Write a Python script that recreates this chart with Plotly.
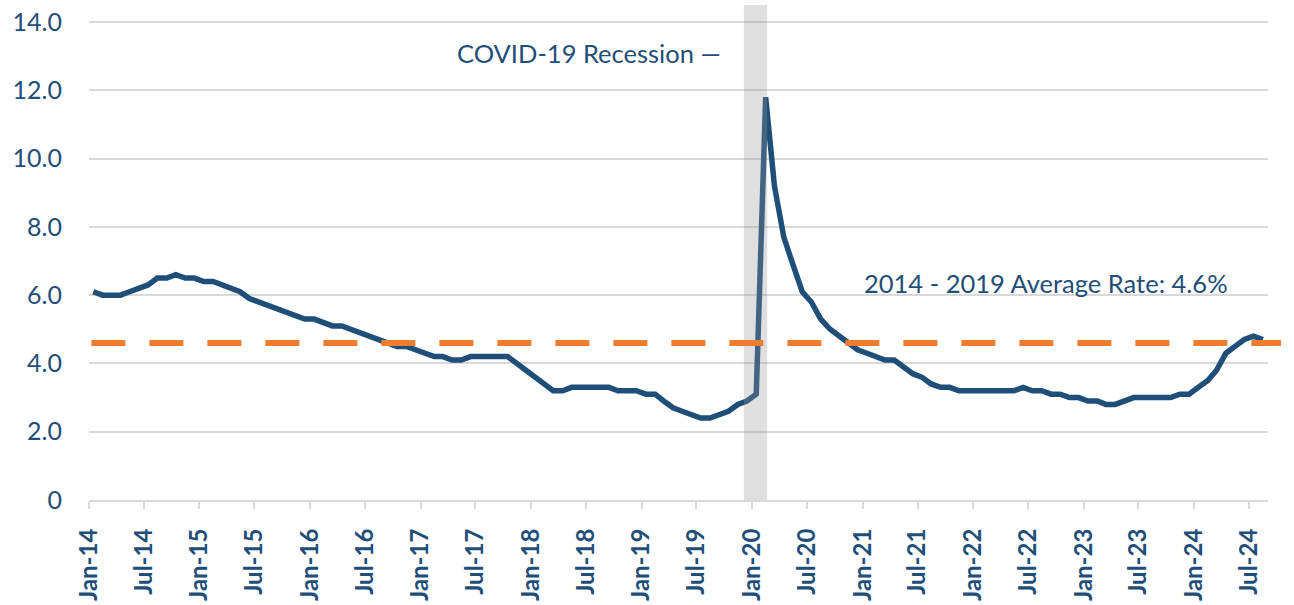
import pandas as pd
import plotly.graph_objects as go

# ---- data ----
start_month = "2014-01-01"
rate = [
    # 2014
    6.1, 6.0, 6.0, 6.0, 6.1, 6.2, 6.3, 6.5, 6.5, 6.6, 6.5, 6.5,
    # 2015
    6.4, 6.4, 6.3, 6.2, 6.1, 5.9, 5.8, 5.7, 5.6, 5.5, 5.4, 5.3,
    # 2016
    5.3, 5.2, 5.1, 5.1, 5.0, 4.9, 4.8, 4.7, 4.6, 4.5, 4.5, 4.4,
    # 2017
    4.3, 4.2, 4.2, 4.1, 4.1, 4.2, 4.2, 4.2, 4.2, 4.2, 4.0, 3.8,
    # 2018
    3.6, 3.4, 3.2, 3.2, 3.3, 3.3, 3.3, 3.3, 3.3, 3.2, 3.2, 3.2,
    # 2019
    3.1, 3.1, 2.9, 2.7, 2.6, 2.5, 2.4, 2.4, 2.5, 2.6, 2.8, 2.9,
    # 2020
    3.1, 11.8, 9.2, 7.7, 6.9, 6.1, 5.8, 5.3, 5.0, 4.8, 4.6, 4.4,
    # 2021
    4.3, 4.2, 4.1, 4.1, 3.9, 3.7, 3.6, 3.4, 3.3, 3.3, 3.2, 3.2,
    # 2022
    3.2, 3.2, 3.2, 3.2, 3.2, 3.3, 3.2, 3.2, 3.1, 3.1, 3.0, 3.0,
    # 2023
    2.9, 2.9, 2.8, 2.8, 2.9, 3.0, 3.0, 3.0, 3.0, 3.0, 3.1, 3.1,
    # 2024
    3.3, 3.5, 3.8, 4.3, 4.5, 4.7, 4.8, 4.7,
]
average_rate = 4.6
average_label = "2014 - 2019 Average Rate: 4.6%"
recession = ["2019-12-05", "2020-02-20"]
recession_label = "COVID-19 Recession \u2014"
y_ticks = [0, 2, 4, 6, 8, 10, 12, 14]
y_ticktext = ["0", "2.0", "4.0", "6.0", "8.0", "10.0", "12.0", "14.0"]
x_range = ["2014-01-01", "2024-09-01"]

dates = pd.date_range(start=start_month, periods=len(rate), freq="MS") + pd.Timedelta(days=14)

NAVY = "#1F4E79"
ORANGE = "#ED7D31"
GRID = "#D9D9D9"
FONT = "Lato"

fig = go.Figure()
fig.add_trace(go.Scatter(
    x=dates, y=rate, mode="lines",
    line=dict(color=NAVY, width=5.5),
    hoverinfo="x+y", showlegend=False,
))

# recession shading (drawn above the line, semi-transparent)
fig.add_shape(type="rect", xref="x", yref="paper",
              x0=recession[0], x1=recession[1], y0=0, y1=1,
              fillcolor="rgba(150,150,150,0.30)", line=dict(width=0),
              layer="above")

# average dashed line
fig.add_shape(type="line", xref="paper", yref="y",
              x0=0.002, x1=1.011, y0=average_rate, y1=average_rate,
              line=dict(color=ORANGE, width=6, dash="34px,24px"),
              layer="above")

fig.add_annotation(x="2019-09-28", y=13.1, xref="x", yref="y",
                   text=recession_label, showarrow=False,
                   xanchor="right", yanchor="middle",
                   font=dict(family=FONT, size=25.5, color=NAVY))
fig.add_annotation(x="2020-12-28", y=6.35, xref="x", yref="y",
                   text=average_label, showarrow=False,
                   xanchor="left", yanchor="middle",
                   font=dict(family=FONT, size=25.5, color=NAVY))

fig.update_layout(
    width=1294, height=605,
    margin=dict(l=89, r=26, t=5, b=105),
    paper_bgcolor="white", plot_bgcolor="white",
    font=dict(family=FONT, color=NAVY),
    showlegend=False,
)
fig.update_xaxes(
    type="date", range=x_range, automargin=False,
    tick0="2014-01-01", dtick="M6", tickformat="%b-%y",
    tickangle=-90,
    tickfont=dict(family=FONT, size=24, color=NAVY, weight="bold"),
    ticks="outside", ticklen=7, tickwidth=2, tickcolor=GRID,
    showline=True, linecolor=GRID, linewidth=2,
    showgrid=False, zeroline=False,
    ticklabelstandoff=10,
)
fig.update_yaxes(
    range=[0, 14.5], tickvals=y_ticks, ticktext=y_ticktext, automargin=False,
    tickfont=dict(family=FONT, size=25, color=NAVY),
    showgrid=True, gridcolor=GRID, gridwidth=1.5,
    zeroline=False, showline=False, ticks="",
    ticklabelstandoff=26,
)

fig.write_html("out.html",
               config={"displayModeBar": False},
               post_script="document.body.style.margin='0';document.body.style.overflow='hidden';")
